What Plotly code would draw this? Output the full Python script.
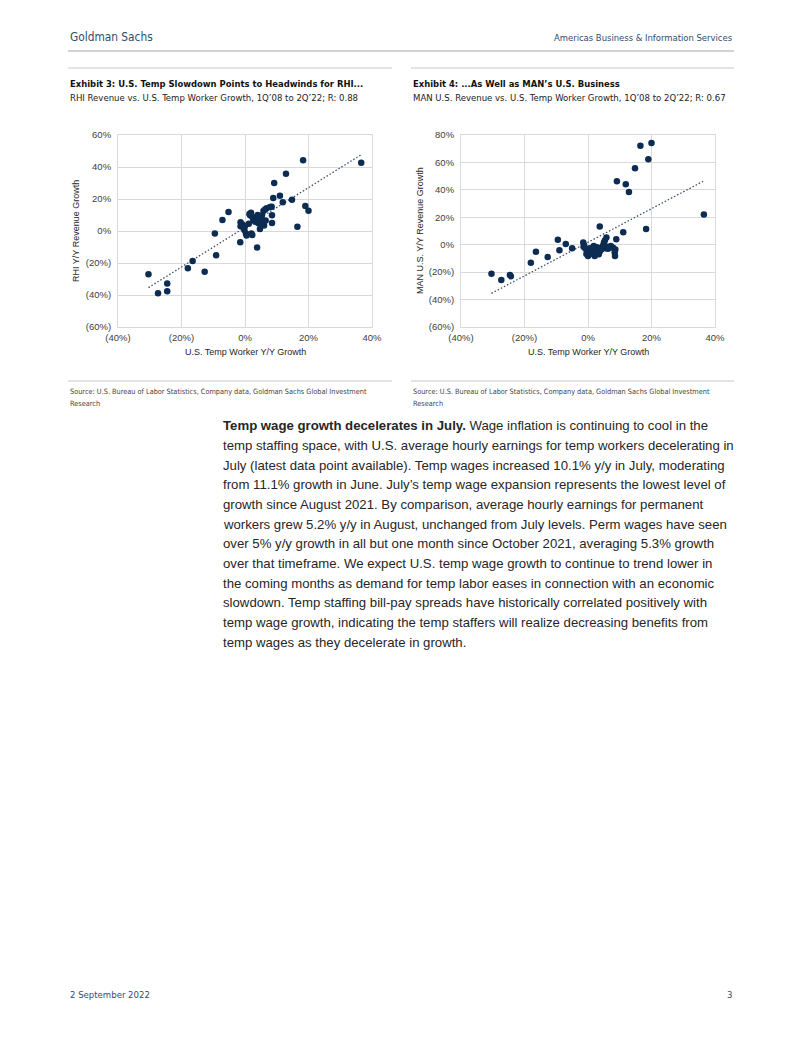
import plotly.graph_objects as go

# ---------------- data ----------------
rhi_x = [-30.4, -27.4, -24.5, -24.5, -18.0, -16.5, -12.7, -9.5, -9.1, -7.1, -5.2, -1.5, -1.4, -1.4,
         -0.9, -0.2, 0.0, 0.3, 0.5, 1.2, 1.4, 1.9, 2.2, 2.0, 2.3, 2.6, 3.0, 3.2, 3.8, 4.2, 4.5, 4.7,
         5.0, 5.3, 5.8, 6.3, 6.8, 5.5, 6.0, 7.9, 8.4, 8.5, 8.5, 8.9, 9.2, 11.0, 11.9, 12.9, 14.8,
         16.5, 18.3, 19.0, 20.0, 36.6, 3.5, 4.0, 1.6, 6.5]
rhi_y = [-27.0, -38.9, -32.8, -37.6, -23.3, -18.8, -25.5, -1.6, -15.1, 6.8, 11.8, -7.1, 5.5, 2.9,
         4.2, 0.6, 3.1, -1.5, -2.8, 4.5, 10.6, 11.4, 9.0, -1.5, -2.5, 6.9, 8.0, 5.8, -10.3, 4.8, 7.5, 1.2,
         8.5, 9.5, 12.5, 13.4, 14.2, 5.0, 3.5, 15.0, 15.2, 9.8, 5.0, 20.6, 30.0, 22.0, 17.9, 35.8, 19.5,
         2.7, 44.2, 15.6, 12.7, 42.7, 7.0, 10.0, 9.8, 6.5]

man_x = [-30.4, -27.3, -24.6, -24.3, -18.0, -16.4, -12.7, -9.5, -9.0, -7.0, -5.0, -1.5, -1.4, -1.2,
         -0.5, 0.0, 0.3, 1.0, 1.6, 2.1, 2.0, 2.6, 3.0, 3.7, 3.7, 4.2, 4.7, 5.0, 5.3, 5.8, 6.0, 6.8,
         7.9, 8.4, 8.5, 8.9, 9.1, 11.1, 11.9, 12.9, 14.8, 16.5, 18.3, 19.0, 20.0, 36.5, 1.3, 2.4,
         0.6, 4.4, 5.5, 7.2, -0.8, 3.4, 8.6, 6.3, 2.8, 1.8]
man_y = [-21.1, -25.8, -22.0, -23.0, -13.2, -5.1, -9.0, 3.7, -4.0, 0.6, -2.6, 1.7, -1.5, -0.5,
         -6.8, -8.3, -4.5, -5.6, -4.4, -8.2, -3.2, -3.2, -5.0, 13.2, -4.9, -3.5, -0.7, 1.5, 3.0, 5.3, -1.5, -2.0,
         -2.3, -5.6, -8.2, 4.0, 46.2, 9.1, 44.0, 38.5, 55.8, 72.2, 11.5, 62.3, 74.1, 22.0, -6.5, -6.0,
         -2.5, -2.0, -2.5, -1.0, -3.0, -7.0, -3.5, -3.0, -1.8, -1.0]

# linear trend (slope, intercept)
rhi_fit = [1.24, 2.3]
man_fit = [1.225, 1.8]

x_ticks = [-40, -20, 0, 20, 40]
x_tick_text = ["(40%)", "(20%)", "0%", "20%", "40%"]
rhi_y_ticks = [-60, -40, -20, 0, 20, 40, 60]
rhi_y_tick_text = ["(60%)", "(40%)", "(20%)", "0%", "20%", "40%", "60%"]
man_y_ticks = [-60, -40, -20, 0, 20, 40, 60, 80]
man_y_tick_text = ["(60%)", "(40%)", "(20%)", "0%", "20%", "40%", "60%", "80%"]

body_lines = [
    "<b>Temp wage growth decelerates in July.</b> Wage inflation is continuing to cool in the",
    "temp staffing space, with U.S. average hourly earnings for temp workers decelerating in",
    "July (latest data point available). Temp wages increased 10.1% y/y in July, moderating",
    "from 11.1% growth in June. July\u2019s temp wage expansion represents the lowest level of",
    "growth since August 2021. By comparison, average hourly earnings for permanent",
    "workers grew 5.2% y/y in August, unchanged from July levels. Perm wages have seen",
    "over 5% y/y growth in all but one month since October 2021, averaging 5.3% growth",
    "over that timeframe. We expect U.S. temp wage growth to continue to trend lower in",
    "the coming months as demand for temp labor eases in connection with an economic",
    "slowdown. Temp staffing bill-pay spreads have historically correlated positively with",
    "temp wage growth, indicating the temp staffers will realize decreasing benefits from",
    "temp wages as they decelerate in growth.",
]

# ---------------- styling ----------------
OFF = 8                      # page body margin of the html document
W, H = 802 - OFF, 1037 - OFF
def px(x): return (x - OFF) / W
def py(y): return 1 - (y - OFF) / H

NAVY = "#0c2c52"
GRID = "#d9d9d9"
TREND = "#3d4f66"
CHART_FONT = "Liberation Sans, Arial, sans-serif"
NARROW = "Liberation Sans Narrow, Arial Narrow, DejaVu Sans Condensed, Liberation Sans, sans-serif"
GS_BLUE = "#2e4d70"

fig = go.Figure()

def add_chart(xs, ys, fit, xa, ya):
    lo, hi = min(xs), max(xs)
    fig.add_trace(go.Scatter(x=[lo, hi], y=[fit[0] * lo + fit[1], fit[0] * hi + fit[1]],
                             mode="lines", line=dict(color=TREND, width=1.3, dash="1.5px,2px"),
                             xaxis=xa, yaxis=ya, hoverinfo="skip", showlegend=False))
    fig.add_trace(go.Scatter(x=xs, y=ys, mode="markers",
                             marker=dict(size=6.5, color=NAVY, line=dict(width=0)),
                             xaxis=xa, yaxis=ya, showlegend=False))

add_chart(rhi_x, rhi_y, rhi_fit, "x", "y")
add_chart(man_x, man_y, man_fit, "x2", "y2")

ax_common = dict(showgrid=True, gridcolor=GRID, gridwidth=1, zeroline=False, automargin=False,
                 showline=True, linecolor=GRID, linewidth=1, mirror=True, ticks="",
                 tickfont=dict(family=CHART_FONT, size=9.5, color="#404040"), fixedrange=True)

plot_top, plot_bot = 135, 327
fig.update_layout(
    width=W, height=H, margin=dict(l=0, r=0, t=0, b=0, pad=0, autoexpand=False),
    paper_bgcolor="white", plot_bgcolor="white", showlegend=False,
    xaxis=dict(domain=[px(118), px(372)], range=[-40, 40], tickvals=x_ticks, ticktext=x_tick_text,
               anchor="y", ticklabelstandoff=2, **ax_common),
    yaxis=dict(domain=[py(plot_bot), py(plot_top)], range=[-60, 60], tickvals=rhi_y_ticks,
               ticktext=rhi_y_tick_text, anchor="x", ticklabelstandoff=4, **ax_common),
    xaxis2=dict(domain=[px(461), px(715)], range=[-40, 40], tickvals=x_ticks, ticktext=x_tick_text,
                anchor="y2", ticklabelstandoff=2, **ax_common),
    yaxis2=dict(domain=[py(plot_bot), py(plot_top)], range=[-60, 80], tickvals=man_y_ticks,
                ticktext=man_y_tick_text, anchor="x2", ticklabelstandoff=4, **ax_common),
)

ann = []
def text(x, y, s, size, color="#222222", family=CHART_FONT, xanchor="left", angle=0, yanchor="middle"):
    ann.append(dict(x=px(x), y=py(y), xref="paper", yref="paper", text=s, showarrow=False,
                    xanchor=xanchor, yanchor=yanchor, textangle=angle,
                    font=dict(size=size, color=color, family=family)))

# header / footer
text(68, 37, "Goldman Sachs", 11.8, GS_BLUE, NARROW)
text(734, 38, "Americas Business &amp; Information Services", 9.4, GS_BLUE, NARROW, xanchor="right")
text(68, 994, "2 September 2022", 9.5, GS_BLUE, NARROW)
text(734, 994, "3", 9.5, GS_BLUE, NARROW, xanchor="right")

# exhibit titles
text(68, 83, "<b>Exhibit 3: U.S. Temp Slowdown Points to Headwinds for RHI...</b>", 9.4, "#111111", NARROW)
text(68, 97, "RHI Revenue vs. U.S. Temp Worker Growth, 1Q\u201908 to 2Q\u201922; R: 0.88", 9.5, "#222222", NARROW)
text(411, 83, "<b>Exhibit 4: ...As Well as MAN\u2019s U.S. Business</b>", 9.4, "#111111", NARROW)
text(411, 97, "MAN U.S. Revenue vs. U.S. Temp Worker Growth, 1Q\u201908 to 2Q\u201922; R: 0.67", 9.5, "#222222", NARROW)

# axis titles
text(245, 352, "U.S. Temp Worker Y/Y Growth", 9, "#262626", xanchor="center")
text(588, 352, "U.S. Temp Worker Y/Y Growth", 9, "#262626", xanchor="center")
text(76, 231, "RHI Y/Y Revenue Growth", 9, "#262626", xanchor="center", angle=-90)
text(420, 231, "MAN U.S. Y/Y Revenue Growth", 9, "#262626", xanchor="center", angle=-90)

# sources
src = "Source: U.S. Bureau of Labor Statistics, Company data, Goldman Sachs Global Investment"
for x0 in (68, 411):
    text(x0, 391, src, 7.3, "#444444", NARROW)
    text(x0, 403, "Research", 7.3, "#444444", NARROW)

# body
for i, line in enumerate(body_lines):
    text(221, 426 + i * 19.64, line, 13.2, "#262626", "Liberation Sans, Arial, sans-serif")

fig.update_layout(annotations=ann)

shapes = []
def hline(x0, x1, y, color="#c8c8c8", w=1):
    shapes.append(dict(type="line", xref="paper", yref="paper", x0=px(x0), x1=px(x1),
                       y0=py(y), y1=py(y), line=dict(color=color, width=w)))
hline(68, 734, 51, "#c4c4c4", 1.5)
hline(68, 392, 68)
hline(411, 734, 68)
hline(68, 392, 381)
hline(411, 734, 381)
fig.update_layout(shapes=shapes)

fig.write_html("out.html")
